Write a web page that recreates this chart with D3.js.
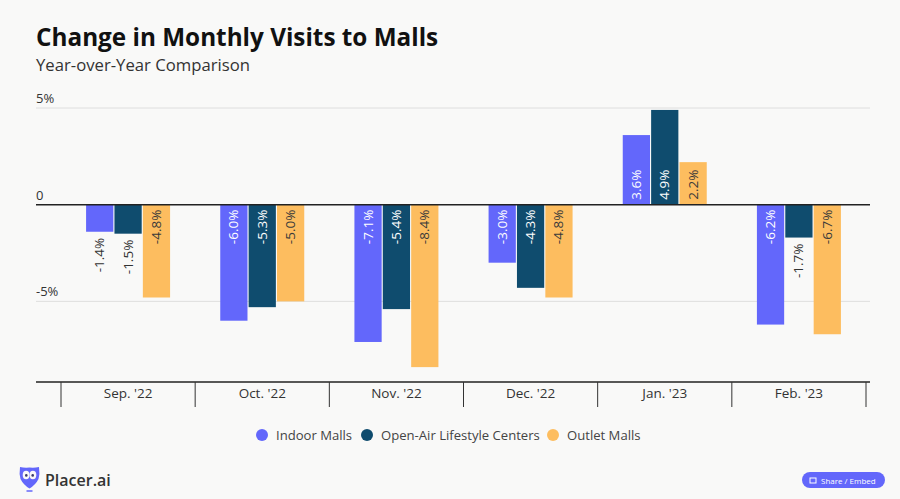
<!DOCTYPE html>
<html>
<head>
<meta charset="utf-8">
<script src="https://cdn.jsdelivr.net/npm/d3@7"></script>
<style>
  html, body { margin: 0; padding: 0; background: #f9f9f8; }
  text { font-family: "Open Sans", sans-serif; }
</style>
</head>
<body>
<div id="svg-container"></div>
<script>
const width = 900;
const height = 499;

const months = ["Sep. '22", "Oct. '22", "Nov. '22", "Dec. '22", "Jan. '23", "Feb. '23"];
const seriesNames = ["Indoor Malls", "Open-Air Lifestyle Centers", "Outlet Malls"];
const seriesColors = ["#6367fb", "#0f4c6e", "#fdbd5f"];
const labelColors = ["#ffffff", "#ffffff", "#3a3a3a"];
const indoor = [-1.4, -6.0, -7.1, -3.0, 3.6, -6.2];
const openAir = [-1.5, -5.3, -5.4, -4.3, 4.9, -1.7];
const outlet = [-4.8, -5.0, -8.4, -4.8, 2.2, -6.7];
const yTicks = [5, 0, -5];
const yTickLabels = ["5%", "0", "-5%"];

const allValues = [indoor, openAir, outlet];

const svg = d3.select("#svg-container")
  .append("svg")
    .attr("width", width)
    .attr("height", height)
    .style("display", "block");

// Title
svg.append("text")
  .attr("x", 36).attr("y", 46)
  .text("Change in Monthly Visits to Malls")
  .style("font-size", "24.3px").style("font-weight", 700).style("fill", "#111");

svg.append("text")
  .attr("x", 36).attr("y", 71)
  .text("Year-over-Year Comparison")
  .style("font-size", "16.7px").style("fill", "#333");

// Scales
const xScale = d3.scaleBand().domain(months).range([61, 866]);
const groupScale = d3.scaleBand().domain([0, 1, 2]).range([-42, 42]).paddingInner(0.04);
const yScale = d3.scaleLinear().domain([-9.17, 5]).range([382, 108]);

// Gridlines and y labels
svg.selectAll("gridLines")
  .data(yTicks.filter(d => d !== 0))
  .enter()
  .append("line")
    .attr("x1", 36).attr("x2", 870)
    .attr("y1", d => yScale(d)).attr("y2", d => yScale(d))
    .attr("stroke", "#dedede");

svg.selectAll("yLabels")
  .data(yTicks)
  .enter()
  .append("text")
    .attr("x", 36)
    .attr("y", d => yScale(d) - 5)
    .text((d, i) => yTickLabels[i])
    .style("font-size", "13px")
    .style("fill", "#333");

// Bars and labels
allValues.forEach((values, s) => {
  const g = svg.append("g");
  const barX = (d, i) => xScale(months[i]) + xScale.bandwidth() / 2 + groupScale(s);

  g.selectAll("rect")
    .data(values)
    .enter()
    .append("rect")
      .attr("x", barX)
      .attr("y", d => Math.min(yScale(d), yScale(0)))
      .attr("width", groupScale.bandwidth())
      .attr("height", d => Math.abs(yScale(d) - yScale(0)))
      .attr("fill", seriesColors[s]);

  g.selectAll("text")
    .data(values)
    .enter()
    .append("text")
      .attr("transform", (d, i) => {
        const cx = barX(d, i) + groupScale.bandwidth() / 2;
        const inside = Math.abs(d) >= 2;
        let y;
        if (d > 0) y = yScale(0) - 5;
        else y = inside ? yScale(0) + 5 : yScale(d) + 6;
        return `translate(${cx + 4.5},${y}) rotate(-90)`;
      })
      .attr("text-anchor", d => d > 0 ? "start" : "end")
      .text(d => d.toFixed(1) + "%")
      .style("font-size", "13.5px")
      .style("fill", d => Math.abs(d) >= 2 ? labelColors[s] : "#333");
});

// Zero line
svg.append("line")
  .attr("x1", 36).attr("x2", 870)
  .attr("y1", yScale(0)).attr("y2", yScale(0))
  .attr("stroke", "#222").attr("stroke-width", 1.5);

// X axis
const xAxis = svg.append("g")
  .attr("transform", "translate(0,382)")
  .call(d3.axisBottom(xScale).tickSize(0).tickPadding(6));
xAxis.select(".domain").remove();
xAxis.selectAll("text").style("font-size", "13.5px").style("fill", "#333")
  .style("font-family", '"Open Sans", sans-serif');

svg.append("line")
  .attr("x1", 36).attr("x2", 870)
  .attr("y1", 382).attr("y2", 382)
  .attr("stroke", "#222").attr("stroke-width", 1.5);

svg.selectAll("xSeparators")
  .data(months.concat("end"))
  .enter()
  .append("line")
    .attr("x1", (d, i) => i < months.length ? xScale(d) : xScale.range()[1])
    .attr("x2", (d, i) => i < months.length ? xScale(d) : xScale.range()[1])
    .attr("y1", 382).attr("y2", 407)
    .attr("stroke", "#333");

// Legend
const legendX = [262, 367, 553];
const legend = svg.selectAll("legendItems")
  .data(seriesNames)
  .enter()
  .append("g")
    .attr("transform", (d, i) => `translate(${legendX[i]},435)`);

legend.append("circle")
  .attr("r", 6)
  .attr("fill", (d, i) => seriesColors[i]);

legend.append("text")
  .attr("x", 14).attr("y", 5)
  .text(d => d)
  .style("font-size", "13.1px")
  .style("fill", "#444");

// Logo
const logo = svg.append("g").attr("transform", "translate(29.5,477)");
logo.append("path")
  .attr("d", "M-9.5,-10 Q-5,-9 0,-9.5 Q5,-9 9.5,-10 Q10.5,-3 9,2 Q6,8 0,11.5 Q-6,8 -9,2 Q-10.5,-3 -9.5,-10 Z")
  .attr("fill", "#6367fb");
logo.append("ellipse").attr("cx", -3.4).attr("cy", -2).attr("rx", 3.4).attr("ry", 4.2).attr("fill", "#f9f9f8");
logo.append("ellipse").attr("cx", 3.4).attr("cy", -2).attr("rx", 3.4).attr("ry", 4.2).attr("fill", "#f9f9f8");
logo.append("circle").attr("cx", -3.2).attr("cy", -1.6).attr("r", 1.3).attr("fill", "#3a3a6a");
logo.append("circle").attr("cx", 3.2).attr("cy", -1.6).attr("r", 1.3).attr("fill", "#3a3a6a");
logo.append("line").attr("x1", -3).attr("x2", 3).attr("y1", 14).attr("y2", 14).attr("stroke", "#6367fb").attr("stroke-width", 1.5);

svg.append("text")
  .attr("x", 45).attr("y", 486)
  .text("Placer.ai")
  .style("font-size", "16px").style("font-weight", 600).style("fill", "#333");

// Share button
svg.append("rect")
  .attr("x", 802).attr("y", 472).attr("width", 83).attr("height", 16).attr("rx", 8)
  .attr("fill", "#6367fb");
svg.append("rect")
  .attr("x", 810).attr("y", 478).attr("width", 6).attr("height", 5)
  .attr("fill", "none").attr("stroke", "#fff");
svg.append("text")
  .attr("x", 821).attr("y", 483.5)
  .text("Share / Embed")
  .style("font-size", "8px").style("fill", "#fff");
</script>
</body>
</html>
